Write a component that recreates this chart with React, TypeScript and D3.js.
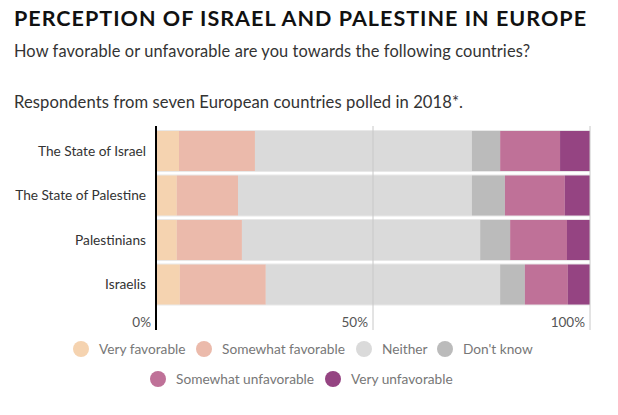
import React from "react";
import * as d3 from "d3";

const categories = ["The State of Israel", "The State of Palestine", "Palestinians", "Israelis"];
const seriesNames = ["Very favorable", "Somewhat favorable", "Neither", "Don't know", "Somewhat unfavorable", "Very unfavorable"];
const veryFavorable = [5.3, 4.8, 4.8, 5.5];
const somewhatFavorable = [17.5, 14.1, 15.0, 19.8];
const neither = [50.0, 53.9, 54.9, 54.0];
const dontKnow = [6.5, 7.6, 6.9, 5.7];
const somewhatUnfavorable = [13.8, 13.8, 13.1, 9.9];
const veryUnfavorable = [6.9, 5.8, 5.3, 5.1];
const tickValues = [0, 50, 100];
const colors = ["#f5d3b0", "#ebbaab", "#dadada", "#bbbbbb", "#bf7198", "#954482"];

const FONT = "Lato, 'Open Sans', sans-serif";

export default function App() {
  const seriesValues = [veryFavorable, somewhatFavorable, neither, dontKnow, somewhatUnfavorable, veryUnfavorable];
  const rows = categories.map((c, i) => {
    const r: any = { category: c };
    seriesNames.forEach((s, j) => (r[s] = seriesValues[j][i]));
    return r;
  });
  const stack = d3.stack<any>().keys(seriesNames)(rows);
  const x = d3.scaleLinear().domain([0, 100]).range([156, 590]);
  const y = d3.scaleBand().domain(categories).range([128.75, 306.75]).paddingInner(0.1).paddingOuter(0.05);
  const color = d3.scaleOrdinal<string>().domain(seriesNames).range(colors);

  const legendRow1 = [
    { name: seriesNames[0], cx: 81 },
    { name: seriesNames[1], cx: 204 },
    { name: seriesNames[2], cx: 364 },
    { name: seriesNames[3], cx: 445 },
  ];
  const legendRow2 = [
    { name: seriesNames[4], cx: 158 },
    { name: seriesNames[5], cx: 333 },
  ];

  return (
    <svg width={618} height={415} style={{ position: "absolute", left: 0, top: 0, background: "#fff" }}>
      <text x={14} y={26} fontFamily={FONT} fontWeight={700} fontSize={21.5} fill="#111" textLength={572} lengthAdjust="spacing">
        PERCEPTION OF ISRAEL AND PALESTINE IN EUROPE
      </text>
      <text x={14} y={57} fontFamily={FONT} fontSize={16.4} fill="#333" textLength={516} lengthAdjust="spacing">
        How favorable or unfavorable are you towards the following countries?
      </text>
      <text x={14} y={108} fontFamily={FONT} fontSize={16.6} fill="#333" textLength={449} lengthAdjust="spacing">
        Respondents from seven European countries polled in 2018*.
      </text>

      {categories.map((c) => (
        <rect key={"bg" + c} x={x(0)} y={(y(c) as number) - 1} width={x(100) - x(0)} height={y.bandwidth() + 2} fill="#e9e9e9" />
      ))}

      {stack.map((layer) => (
        <g key={layer.key} fill={color(layer.key)}>
          {layer.map((d: any) => (
            <rect
              key={d.data.category}
              x={x(d[0])}
              y={y(d.data.category)}
              width={x(d[1]) - x(d[0])}
              height={y.bandwidth()}
            />
          ))}
        </g>
      ))}

      {tickValues.filter((t) => t > 0).map((t) => (
        <line key={"g" + t} x1={x(t)} x2={x(t)} y1={126} y2={330} stroke="#c8c8c8" strokeWidth={1} />
      ))}
      <line x1={x(0)} x2={x(0)} y1={126} y2={330} stroke="#000" strokeWidth={2} />

      {tickValues.map((t) => (
        <text key={"t" + t} x={x(t) - 5} y={327} textAnchor="end" fontFamily={FONT} fontSize={13.5} fill="#555">
          {t}%
        </text>
      ))}

      {categories.map((c) => (
        <text
          key={"l" + c}
          x={146}
          y={(y(c) as number) + y.bandwidth() / 2}
          dy="0.35em"
          textAnchor="end"
          fontFamily={FONT}
          fontSize={13.7}
          fill="#333"
        >
          {c}
        </text>
      ))}

      {[legendRow1, legendRow2].map((row, ri) =>
        row.map((it) => (
          <g key={it.name}>
            <circle cx={it.cx} cy={ri === 0 ? 349 : 379} r={8} fill={color(it.name)} />
            <text x={it.cx + 18} y={ri === 0 ? 349 : 379} dy="0.35em" fontFamily={FONT} fontSize={13.7} fill="#777">
              {it.name}
            </text>
          </g>
        ))
      )}
    </svg>
  );
}
